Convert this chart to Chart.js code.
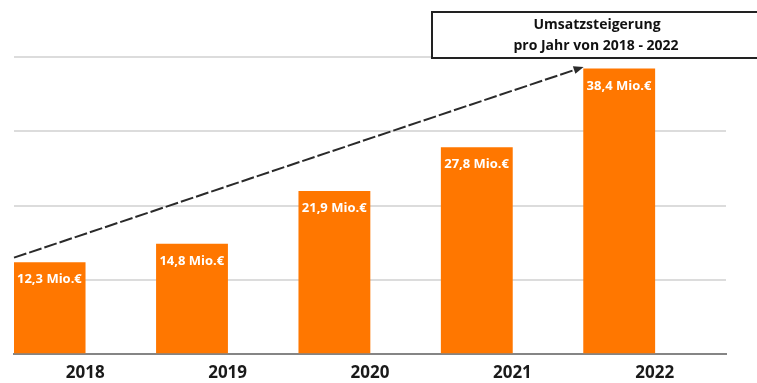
<!DOCTYPE html>
<html>
<head>
<meta charset="utf-8">
<script src="https://cdn.jsdelivr.net/npm/chart.js@4"></script>
<style>
  html, body { margin: 0; padding: 0; background: #fff; }
  #wrap { width: 757px; height: 383px; }
</style>
</head>
<body>
<div id="wrap"><canvas id="chart" width="757" height="383"></canvas></div>
<script>
// Umsatz je Jahr (Mio. €)
const years = ['2018', '2019', '2020', '2021', '2022'];
const revenue = [12.3, 14.8, 21.9, 27.8, 38.4];
const emptySeries = [null, null, null, null, null];
const boxLines = ['Umsatzsteigerung', 'pro Jahr von 2018 - 2022'];

const orange = '#ff7700';

function fmt(v) {
    return v.toFixed(1).replace('.', ',') + ' Mio.€';
}

// labels inside bars, trend arrow and the text box
const overlay = {
    id: 'overlay',
    afterDatasetsDraw(chart) {
        const ctx = chart.ctx;
        const bars = chart.getDatasetMeta(0).data;

        ctx.save();
        ctx.fillStyle = '#fff';
        ctx.font = 'bold 13px "Open Sans"';
        ctx.textBaseline = 'middle';
        ctx.textAlign = 'left';
        bars.forEach((bar, i) => {
            ctx.fillText(fmt(revenue[i]), bar.x - bar.width / 2 + 3, bar.y + 17);
        });
        ctx.restore();

        // dashed arrow from first to last bar
        const first = bars[0], last = bars[bars.length - 1];
        const x1 = first.x - first.width / 2, y1 = first.y - 5;
        const x2 = last.x - last.width / 2, y2 = last.y - 2;
        const ang = Math.atan2(y2 - y1, x2 - x1);
        ctx.save();
        ctx.strokeStyle = '#2a2a2a';
        ctx.fillStyle = '#2a2a2a';
        ctx.lineWidth = 2;
        ctx.setLineDash([13, 3]);
        ctx.beginPath();
        ctx.moveTo(x1, y1);
        ctx.lineTo(x2 - 6 * Math.cos(ang), y2 - 6 * Math.sin(ang));
        ctx.stroke();
        ctx.setLineDash([]);
        ctx.beginPath();
        ctx.moveTo(x2, y2);
        ctx.lineTo(x2 - 10 * Math.cos(ang) + 4 * Math.sin(ang), y2 - 10 * Math.sin(ang) - 4 * Math.cos(ang));
        ctx.lineTo(x2 - 10 * Math.cos(ang) - 4 * Math.sin(ang), y2 - 10 * Math.sin(ang) + 4 * Math.cos(ang));
        ctx.closePath();
        ctx.fill();
        ctx.restore();

        // text box top right
        ctx.save();
        ctx.fillStyle = '#fff';
        ctx.fillRect(432, 12, 330, 46);
        ctx.strokeStyle = '#222';
        ctx.lineWidth = 2;
        ctx.strokeRect(432, 12, 330, 46);
        ctx.fillStyle = '#111';
        ctx.font = 'bold 14px "Open Sans"';
        ctx.textAlign = 'center';
        ctx.textBaseline = 'middle';
        ctx.fillText(boxLines[0], 597, 25);
        ctx.fillText(boxLines[1], 596, 46);
        ctx.restore();
    }
};

new Chart(document.getElementById('chart'), {
    type: 'bar',
    data: {
        labels: years,
        datasets: [
            {
                label: 'Umsatz',
                data: revenue,
                backgroundColor: orange,
                categoryPercentage: 1,
                barPercentage: 1
            },
            {
                label: '',
                data: emptySeries,
                backgroundColor: 'transparent',
                categoryPercentage: 1,
                barPercentage: 1
            }
        ]
    },
    options: {
        responsive: false,
        animation: false,
        layout: { padding: { left: 14, right: 31, top: 57, bottom: 0 } },
        plugins: {
            legend: { display: false },
            tooltip: { enabled: false }
        },
        scales: {
            x: {
                grid: { display: false, drawTicks: false },
                border: { display: true, color: '#858585', width: 2 },
                ticks: {
                    color: '#1a1a1a',
                    font: { family: '"Open Sans"', size: 17, weight: 'bold' },
                    padding: 9
                },
                afterFit(scale) { scale.height = 29; }
            },
            y: {
                min: 0,
                max: 40,
                ticks: { display: false, stepSize: 10 },
                grid: { color: '#dcdcdc', lineWidth: 2, drawTicks: false },
                border: { display: false },
                afterFit(scale) { scale.width = 0; }
            }
        }
    },
    plugins: [overlay]
});
</script>
</body>
</html>
